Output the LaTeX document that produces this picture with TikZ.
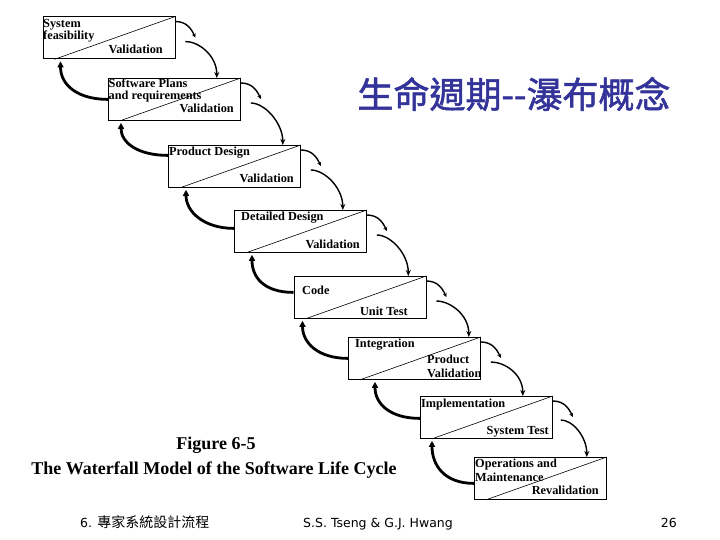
\documentclass[tikz,border=0pt]{standalone}
\usepackage{fontspec}
\setmainfont{Liberation Serif}
\newfontfamily\cjkfont{Noto Sans CJK TC}
\newfontfamily\titlefont[FakeBold=1.5]{Noto Sans CJK TC}
\newfontfamily\footfont{DejaVu Sans}
\usepackage{xcolor}
\usepackage{tikz}
\usetikzlibrary{arrows.meta, calc}

\definecolor{titleblue}{RGB}{51,51,153}

\begin{document}
\begin{tikzpicture}[x=1pt, y=-1pt,
    stage/.style={draw, line width=0.8pt, minimum width=132pt, minimum height=42pt,
                  inner sep=0pt, anchor=north west},
    split/.style={line width=0.6pt},
    lbl/.style={font=\fontsize{12.3}{12}\selectfont\bfseries, inner sep=0pt},
    hook/.style={line width=1.4pt, -{Stealth[length=4pt,width=4pt]}},
    fwd/.style={line width=1.4pt, -{Stealth[length=6pt,width=5pt]}},
    back/.style={line width=2.8pt, -{Triangle[length=6pt,width=6pt]}}]

    \useasboundingbox (0,0) rectangle (720,540);

    % Title
    \node[font=\titlefont\fontsize{36}{40}\selectfont, color=titleblue] (title) at (514,94) {生命週期-{}-瀑布概念};

    % Stage boxes
    \node[stage] (b1) at (42.5,16.5) {};
    \node[stage] (b2) at (108,78) {};
    \node[stage] (b3) at (168,145) {};
    \node[stage] (b4) at (234,210) {};
    \node[stage] (b5) at (293.5,276) {};
    \node[stage] (b6) at (348,337) {};
    \node[stage] (b7) at (420,396) {};
    \node[stage] (b8) at (474,457) {};

    % Diagonals
    \draw[split] ($(b1.south west)+(12,0)$) -- (b1.north east);
    \draw[split] ($(b2.south west)+(12,0)$) -- (b2.north east);
    \draw[split] ($(b3.south west)+(12,0)$) -- (b3.north east);
    \draw[split] ($(b4.south west)+(12,0)$) -- (b4.north east);
    \draw[split] ($(b5.south west)+(12,0)$) -- (b5.north east);
    \draw[split] ($(b6.south west)+(12,0)$) -- (b6.north east);
    \draw[split] ($(b7.south west)+(12,0)$) -- (b7.north east);
    \draw[split] ($(b8.south west)+(12,0)$) -- (b8.north east);

    % Stage 1: system feasibility
    \node[lbl, anchor=base west] (b1-a) at (43,28) {System};
    \node[lbl, anchor=base west] (b1-b) at (43,39.5) {feasibility};
    \node[lbl, anchor=base east] (b1-c) at (163,54) {Validation};

    % Stage 2: plans and requirements
    \node[lbl, anchor=base west] (b2-a) at (108.5,88) {Software Plans};
    \node[lbl, anchor=base west] (b2-b) at (108.5,100) {and requirements};
    \node[lbl, anchor=base east] (b2-c) at (234,113) {Validation};

    % Stage 3: product design
    \node[lbl, anchor=base west] (b3-a) at (169,156) {Product Design};
    \node[lbl, anchor=base east] (b3-b) at (294,183) {Validation};

    % Stage 4: detailed design
    \node[lbl, anchor=base west] (b4-a) at (241,221) {Detailed Design};
    \node[lbl, anchor=base east] (b4-b) at (360,248) {Validation};

    % Stage 5: code
    \node[lbl, anchor=base west] (b5-a) at (302,294) {Code};
    \node[lbl, anchor=base east] (b5-b) at (408,315) {Unit Test};

    % Stage 6: integration
    \node[lbl, anchor=base west] (b6-a) at (355,347) {Integration};
    \node[lbl, anchor=base west] (b6-b) at (427,363) {Product};
    \node[lbl, anchor=base west] (b6-c) at (427,377) {Validation};

    % Stage 7: implementation
    \node[lbl, anchor=base west] (b7-a) at (421,407) {Implementation};
    \node[lbl, anchor=base east] (b7-b) at (549,434) {System Test};

    % Stage 8: operations
    \node[lbl, anchor=base west] (b8-a) at (475,467) {Operations and};
    \node[lbl, anchor=base west] (b8-b) at (475,481) {Maintenance};
    \node[lbl, anchor=base east] (b8-c) at (599,494) {Revalidation};

    % Forward arrows (two strokes each)
    \coordinate (k1) at ($(b1.north east)+(20,21)$);
    \coordinate (k2) at ($(b2.north east)+(20,21)$);
    \coordinate (k3) at ($(b3.north east)+(20,21)$);
    \coordinate (k4) at ($(b4.north east)+(20,21)$);
    \coordinate (k5) at ($(b5.north east)+(20,21)$);
    \coordinate (k6) at ($(b6.north east)+(20,21)$);
    \coordinate (k7) at ($(b7.north east)+(20,21)$);

    \draw[hook] ($(b1.north east)+(0,5)$) .. controls +(11,0) and +(-4,-9) .. (k1);
    \draw[fwd] ($(b1.north east)+(10,25)$) .. controls +(14,0) and +(0,-22) .. ($(b2.north east)+(-24,0)$);
    \draw[hook] ($(b2.north east)+(0,5)$) .. controls +(11,0) and +(-4,-9) .. (k2);
    \draw[fwd] ($(b2.north east)+(10,25)$) .. controls +(14,0) and +(0,-22) .. ($(b3.north east)+(-18,0)$);
    \draw[hook] ($(b3.north east)+(0,5)$) .. controls +(11,0) and +(-4,-9) .. (k3);
    \draw[fwd] ($(b3.north east)+(10,25)$) .. controls +(14,0) and +(0,-22) .. ($(b4.north east)+(-24,0)$);
    \draw[hook] ($(b4.north east)+(0,5)$) .. controls +(11,0) and +(-4,-9) .. (k4);
    \draw[fwd] ($(b4.north east)+(10,25)$) .. controls +(14,0) and +(0,-22) .. ($(b5.north east)+(-18,0)$);
    \draw[hook] ($(b5.north east)+(0,5)$) .. controls +(11,0) and +(-4,-9) .. (k5);
    \draw[fwd] ($(b5.north east)+(10,25)$) .. controls +(14,0) and +(0,-22) .. ($(b6.north east)+(-12,0)$);
    \draw[hook] ($(b6.north east)+(0,5)$) .. controls +(11,0) and +(-4,-9) .. (k6);
    \draw[fwd] ($(b6.north east)+(10,25)$) .. controls +(14,0) and +(0,-22) .. ($(b7.north east)+(-30,0)$);
    \draw[hook] ($(b7.north east)+(0,5)$) .. controls +(11,0) and +(-4,-9) .. (k7);
    \draw[fwd] ($(b7.north east)+(8,24)$) .. controls +(12,0) and +(0,-20) .. ($(b8.north east)+(-20,0)$);

    % Backward arrows
    \draw[back] ($(b2.west)+(0,0)$) .. controls +(-30,0) and +(0,24) .. ($(b1.south west)+(18,2)$);
    \draw[back] ($(b3.west)+(0,-11)$) .. controls +(-30,0) and +(0,20) .. ($(b2.south west)+(13,2)$);
    \draw[back] ($(b4.west)+(0,-3)$) .. controls +(-30,0) and +(0,22) .. ($(b3.south west)+(18,2)$);
    \draw[back] ($(b5.west)+(0,-5)$) .. controls +(-30,0) and +(0,22) .. ($(b4.south west)+(18,2)$);
    \draw[back] ($(b6.west)+(0,0)$) .. controls +(-30,0) and +(0,22) .. ($(b5.south west)+(9,2)$);
    \draw[back] ($(b7.west)+(0,1)$) .. controls +(-30,0) and +(0,22) .. ($(b6.south west)+(27,2)$);
    \draw[back] ($(b8.west)+(0,5)$) .. controls +(-30,0) and +(0,24) .. ($(b7.south west)+(12,2)$);

    % Figure caption
    \node[font=\fontsize{18}{20}\selectfont\bfseries, anchor=base] (fig) at (216,449) {Figure 6-5};
    \node[font=\fontsize{18}{20}\selectfont\bfseries, anchor=base] (cap) at (214,474) {The Waterfall Model of the Software Life Cycle};

    % Footer
    \node[anchor=base west, inner sep=0pt] (chap) at (80,527)
        {\footfont\fontsize{12.5}{14}\selectfont 6. \cjkfont\fontsize{14}{14}\selectfont 專家系統設計流程};
    \node[anchor=base, inner sep=0pt, font=\footfont\fontsize{12.5}{14}\selectfont] (auth) at (378,527) {S.S. Tseng \& G.J. Hwang};
    \node[anchor=base east, inner sep=0pt, font=\footfont\fontsize{12.5}{14}\selectfont] (page) at (677,527) {26};
\end{tikzpicture}
\end{document}
